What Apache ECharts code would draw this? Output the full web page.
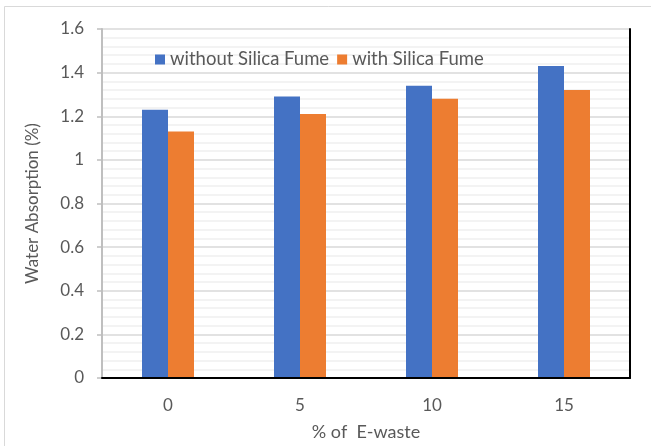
<!DOCTYPE html>
<html>
<head>
<meta charset="utf-8">
<script src="https://cdn.jsdelivr.net/npm/echarts@6/dist/echarts.min.js"></script>
<style>
  html, body { margin: 0; padding: 0; background: #ffffff; }
  #chart { width: 651px; height: 446px; }
</style>
</head>
<body>
<div id="chart"></div>
<script>
// Water absorption by E-waste replacement level
const categories = ['0', '5', '10', '15'];
const withoutSilicaFume = [1.23, 1.29, 1.34, 1.43];
const withSilicaFume = [1.13, 1.21, 1.28, 1.32];
const seriesNames = ['without Silica Fume', 'with Silica Fume'];
const yTicks = { min: 0, max: 1.6, interval: 0.2 };

const FONT = 'Lato, "Open Sans", sans-serif';
const TEXT = '#595959';

const chart = echarts.init(document.getElementById('chart'), null, { renderer: 'canvas' });

const hidden = { show: false };

chart.setOption({
  animation: false,
  backgroundColor: '#ffffff',
  textStyle: { fontFamily: FONT },
  graphic: [{
    type: 'rect',
    shape: { x: 4.5, y: 6.5, width: 660, height: 460 },
    style: { fill: 'none', stroke: '#d9d9d9', lineWidth: 1 },
    silent: true,
    z: -10
  }],
  grid: {
    left: 102, right: 21, top: 29, bottom: 66,
    show: false
  },
  legend: {
    data: seriesNames,
    left: 150, top: 45,
    itemWidth: 10, itemHeight: 10,
    itemGap: 8,
    icon: 'rect',
    textStyle: { color: TEXT, fontSize: 18.5, fontFamily: FONT }
  },
  xAxis: [
    {
      type: 'category',
      data: categories,
      name: '% of  E-waste',
      nameLocation: 'middle',
      nameGap: 45,
      nameTextStyle: { color: TEXT, fontSize: 18, fontFamily: FONT },
      axisLine: { show: true, lineStyle: { color: '#bfbfbf', width: 2 } },
      axisTick: hidden,
      axisLabel: { color: TEXT, fontSize: 17, margin: 19, fontFamily: FONT },
      splitLine: hidden,
      z: 2
    },
    {
      // top edge of the plot frame
      type: 'category',
      data: categories,
      position: 'top',
      axisLine: { show: true, lineStyle: { color: '#000000', width: 2 } },
      axisTick: hidden,
      axisLabel: hidden,
      splitLine: hidden,
      z: 3
    }
  ],
  yAxis: [
    {
      type: 'value',
      min: yTicks.min, max: yTicks.max, interval: yTicks.interval,
      name: 'Water Absorption (%)',
      nameLocation: 'middle',
      nameGap: 61,
      nameTextStyle: { color: TEXT, fontSize: 17, fontFamily: FONT },
      axisLine: { show: true, lineStyle: { color: '#bfbfbf', width: 2 } },
      axisTick: { show: true, length: 5, lineStyle: { color: '#bfbfbf', width: 1.5 } },
      axisLabel: {
        color: TEXT, fontSize: 17, margin: 18, fontFamily: FONT,
        formatter: v => (Math.round(v * 10) / 10).toString()
      },
      splitLine: { show: true, lineStyle: { color: '#d9d9d9', width: 1.5 } },
      minorTick: { show: false, splitNumber: 5 },
      minorSplitLine: { show: true, lineStyle: { color: '#f0f0f0', width: 1.5 } },
      z: 1
    },
    {
      // right edge of the plot frame
      type: 'value',
      min: yTicks.min, max: yTicks.max, interval: yTicks.interval,
      position: 'right',
      axisLine: { show: true, lineStyle: { color: '#000000', width: 2 } },
      axisTick: hidden,
      axisLabel: hidden,
      splitLine: hidden,
      z: 3
    }
  ],
  series: [
    {
      name: seriesNames[0],
      type: 'bar',
      data: withoutSilicaFume,
      barWidth: 26,
      barGap: '0%',
      itemStyle: { color: '#4472C4' }
    },
    {
      name: seriesNames[1],
      type: 'bar',
      data: withSilicaFume,
      barWidth: 26,
      barGap: '0%',
      itemStyle: { color: '#ED7D31' }
    }
  ]
});
</script>
</body>
</html>
